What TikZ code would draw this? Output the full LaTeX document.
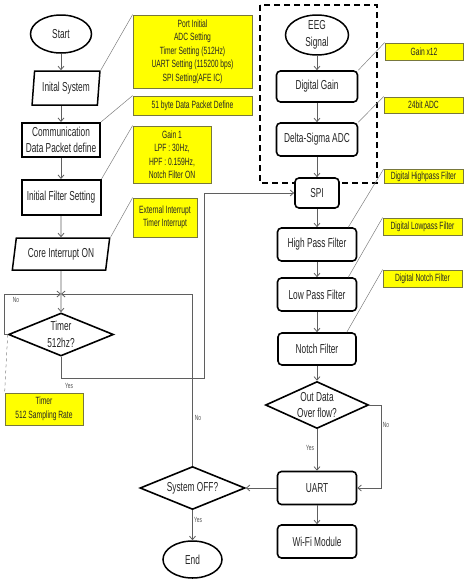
\documentclass[tikz,border=0pt]{standalone}
\usepackage{fontspec}
\setmainfont{Liberation Sans}[FakeStretch=0.64]
\usepackage{tikz}
\usetikzlibrary{shapes.geometric, arrows.meta}
\definecolor{notefill}{RGB}{255,255,0}
\definecolor{noteline}{RGB}{120,120,60}
\definecolor{wire}{RGB}{95,95,95}

\begin{document}
\begin{tikzpicture}[x=1pt, y=-1pt, >={Straight Barb[length=3.5pt,width=6pt]},
    every node/.style={text=black!85, font=\fontsize{13}{16.5}\selectfont, align=center, inner sep=0pt},
    term/.style={ellipse, draw, line width=1.5pt, fill=white},
    io/.style={trapezium, draw, line width=1.5pt, trapezium stretches=true},
    box/.style={rectangle, draw, line width=2pt, fill=white},
    rbox/.style={rectangle, rounded corners=4pt, draw, line width=1.6pt, fill=white},
    dec/.style={diamond, draw, line width=1.6pt, shape aspect=2.4, fill=white},
    note/.style={rectangle, draw=noteline, line width=0.8pt, fill=notefill, font=\fontsize{10.5}{13.5}\selectfont},
    callout/.style={draw=wire!80, line width=0.5pt},
    flow/.style={->, draw=wire, line width=0.8pt},
    lbl/.style={font=\fontsize{7.5}{8}\selectfont, text=black!70}]
    \useasboundingbox (0, 0) rectangle (474, 581);

    % EEG front end
    \draw [line width=1.8pt, dash pattern=on 6pt off 4pt] (260, 5) rectangle (377, 183);

    % left column
    \node[term, minimum width=61pt, minimum height=38pt] at (61, 34)    (start) {Start};
    \node[io, trapezium left angle=81, trapezium right angle=99, minimum width=68pt, minimum height=34pt] at (66, 88)   (init) {Inital System};
    \node[box, minimum width=78pt, minimum height=34pt] at (61, 140)  (comm) {Communication\\Data Packet define};
    \node[box, minimum width=79pt, minimum height=35pt] at (61, 197.5)  (filt) {Initial Filter Setting};
    \node[io, trapezium left angle=76, trapezium right angle=104, minimum width=98pt, minimum height=32pt] at (61, 254)   (core) {Core Interrupt ON};
    \node[dec, minimum width=105pt, minimum height=43pt] at (61, 334.5)  (timer) {Timer\\512hz?};
    \coordinate (jn) at (61, 294);
    \coordinate (nl) at (4, 294);
    \coordinate (yl) at (204, 378);

    % right column
    \node[term, minimum width=63pt, minimum height=34pt] at (317, 35)   (eeg) {EEG\\Signal};
    \node[rbox, minimum width=81pt, minimum height=31pt] at (317, 86.5)   (gain) {Digital Gain};
    \node[rbox, minimum width=81pt, minimum height=33pt] at (317, 139.5)  (adc) {Delta-Sigma ADC};
    \node[rbox, minimum width=44pt, minimum height=30pt] at (317, 193)    (spi) {SPI};
    \node[rbox, minimum width=79pt, minimum height=33pt] at (317, 244.5)  (hpf) {High Pass Filter};
    \node[rbox, minimum width=79pt, minimum height=33pt] at (317, 294.5)  (lpf) {Low Pass Filter};
    \node[rbox, minimum width=78pt, minimum height=32pt] at (317, 349)    (notch) {Notch Filter};
    \node[dec, minimum width=103pt, minimum height=47pt] at (317, 405)    (ovf) {Out Data\\Over flow?};
    \node[rbox, minimum width=79pt, minimum height=33pt] at (317, 488)    (uart) {UART};
    \node[rbox, minimum width=79pt, minimum height=33pt] at (317, 541.5)  (wifi) {Wi-Fi Module};
    \coordinate (nr) at (381, 405);

    \node[dec, minimum width=105pt, minimum height=43pt] at (192.5, 488)  (off) {System OFF?};
    \node[term, minimum width=59pt, minimum height=37pt] at (192.5, 559.5)  (end) {End};

    % notes
    \node[note, minimum width=119pt, minimum height=73pt] at (192.5, 51.5)  (n1) {Port Initial\\ADC Setting\\Timer Setting (512Hz)\\UART Setting (115200 bps)\\SPI Setting(AFE IC)};
    \node[note, minimum width=119pt, minimum height=19pt] at (192.5, 105.5) (n2) {51 byte Data Packet Define};
    \node[note, minimum width=78pt, minimum height=57pt] at (172, 154.5)    (n3) {Gain 1\\LPF : 30Hz,\\HPF : 0.159Hz,\\Notch Filter ON};
    \node[note, minimum width=64pt, minimum height=39pt] at (165, 217.5)    (n4) {External Interrupt\\Timer Interrupt};
    \node[note, minimum width=78pt, minimum height=32pt] at (44, 409)       (n5) {Timer\\512 Sampling Rate};
    \node[note, minimum width=78pt, minimum height=17pt] at (424, 51.5)     (n6) {Gain x12};
    \node[note, minimum width=79pt, minimum height=16pt] at (423.5, 105)    (n7) {24bit ADC};
    \node[note, minimum width=79pt, minimum height=14pt] at (423.5, 176.5)  (n8) {Digital Highpass Filter};
    \node[note, minimum width=79pt, minimum height=17pt] at (422.5, 226.5)  (n9) {Digital Lowpass Filter};
    \node[note, minimum width=79pt, minimum height=17pt] at (422.5, 278.5)  (n10) {Digital Notch Filter};

    \draw [callout] (init.top right corner) -- (n1.north west);
    \draw [callout] (comm.north east) -- (n2.north west);
    \draw [callout] (filt.north east) -- (n3.north west);
    \draw [callout] (core.top right corner) -- (n4.north west);
    \draw [callout, dashed] (timer.west) -- (n5.north west);
    \draw [callout] (gain.north east) -- (n6.north west);
    \draw [callout] (adc.north east) -- (n7.north west);
    \draw [callout] ([xshift=-9pt]hpf.north east) -- (n8.north west);
    \draw [callout] ([xshift=-9pt]lpf.north east) -- (n9.north west);
    \draw [callout] ([xshift=-10pt]notch.north east) -- (n10.north west);

    % flow
    \draw [flow] (start) -- (start |- init.north);
    \draw [flow] (comm |- init.south) -- (comm);
    \draw [flow] (comm) -- (filt);
    \draw [flow] (filt) -- (core);
    \draw [flow] (core) -- (timer);
    \draw [flow] (timer.west) -| (nl) -- (jn);
    \draw [flow] (timer.south) |- (yl) |- (spi.west);
    \draw [flow] (off.north) |- (jn);

    \draw [flow] (eeg) -- (gain);
    \draw [flow] (gain) -- (adc);
    \draw [flow] (adc) -- (spi);
    \draw [flow] (spi) -- (hpf);
    \draw [flow] (hpf) -- (lpf);
    \draw [flow] (lpf) -- (notch);
    \draw [flow] (notch) -- (ovf);
    \draw [flow] (ovf) -- (uart);
    \draw [flow] (ovf.east) -- (nr) |- (uart.east);
    \draw [flow] (uart) -- (off);
    \draw [flow] (uart) -- (wifi);
    \draw [flow] (off) -- (end);

    \node[lbl] at (16, 300)   (l1) {No};
    \node[lbl] at (69, 386)   (l2) {Yes};
    \node[lbl] at (198, 418)  (l3) {No};
    \node[lbl] at (386, 425)  (l4) {No};
    \node[lbl] at (310, 448)  (l5) {Yes};
    \node[lbl] at (198, 520)  (l6) {Yes};
\end{tikzpicture}
\end{document}
